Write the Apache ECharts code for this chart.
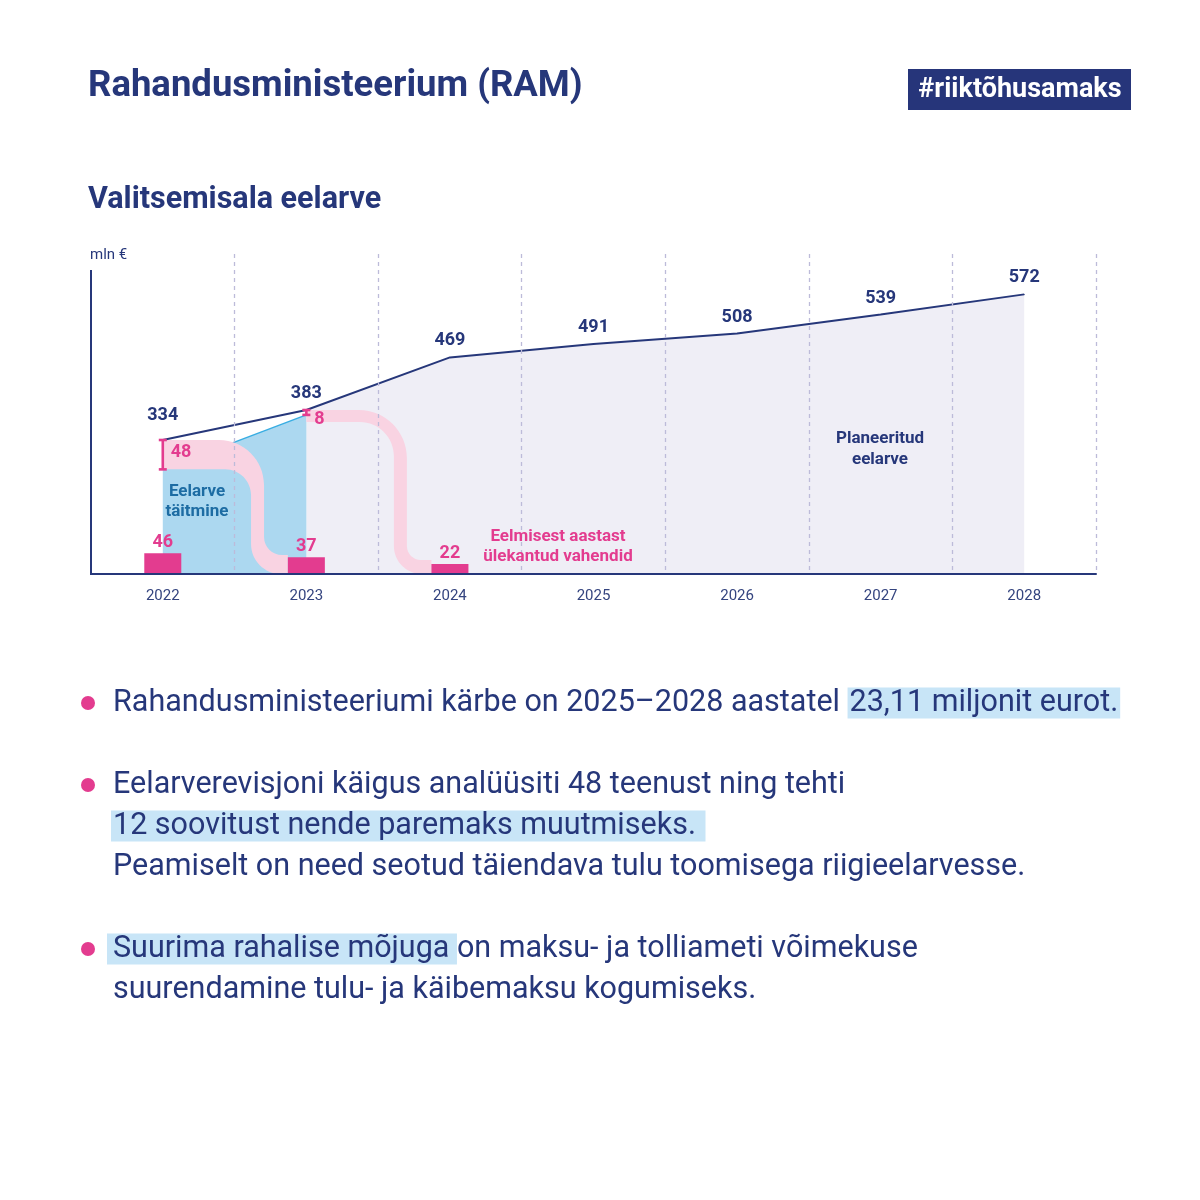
<!DOCTYPE html>
<html><head><meta charset="utf-8">
<script src="https://cdn.jsdelivr.net/npm/echarts@6/dist/echarts.min.js"></script>
<style>html,body{margin:0;padding:0;background:#fff}#c{width:1200px;height:1200px}</style>
</head><body><div id="c"></div><script>
// ---- data ----
const years = ['2022','2023','2024','2025','2026','2027','2028'];
const budget = [334, 383, 469, 491, 508, 539, 572];      // Valitsemisala eelarve, mln €
const unusedFlow = [48, 8];                               // 2022, 2023 – ülekantud järgmisse aastasse
const carriedOver = [46, 37, 22];                         // 2022–2024 eelmisest aastast ülekantud vahendid
const executed = unusedFlow.map((u, i) => budget[i] - u); // eelarve täitmine 2022, 2023

// ---- style constants ----
const NAVY = '#26377a', PINK = '#e33c8f', BAND = '#f9d3e2', BLUE = '#acd8f0', BLUE_LINE = '#38ade2', LAV = '#efeef6';
const FONT = 'Roboto';
const Y_MIN = 115, Y_MAX = 638, BAR_MAX = 710, BAR_W = 37;
const BODY = 30.5;

const chart = echarts.init(document.getElementById('c'), null, {renderer: 'canvas'});

function bandPath(x0, yT, t1, xv, tv, base, t2, xe, r1o, r1i, r2o, r2i) {
  const k = 0.552;
  const xr = xv + tv / 2, xl = xv - tv / 2;
  const yb1 = yT + t1, yt2 = base - t2;
  let d = `M${x0},${yT} L${xr - r1o},${yT} `;
  d += `C${xr - r1o + k * r1o},${yT} ${xr},${yT + r1o - k * r1o} ${xr},${yT + r1o} `;
  d += `L${xr},${yt2 - r2i} `;
  d += `C${xr},${yt2 - r2i + k * r2i} ${xr + r2i - k * r2i},${yt2} ${xr + r2i},${yt2} `;
  d += `L${xe},${yt2} L${xe},${base} L${xl + r2o},${base} `;
  d += `C${xl + r2o - k * r2o},${base} ${xl},${base - r2o + k * r2o} ${xl},${base - r2o} `;
  d += `L${xl},${yb1 + r1i} `;
  d += `C${xl},${yb1 + r1i - k * r1i} ${xl - r1i + k * r1i},${yb1} ${xl - r1i},${yb1} `;
  d += `L${x0},${yb1} Z`;
  return d;
}

const flowData = unusedFlow.map((u, i) => [i, budget[i], budget[i] - u, u]);

const richBody = {
  a: {fontSize: BODY, fontFamily: FONT, color: NAVY, lineHeight: 32},
  h: {fontSize: BODY, fontFamily: FONT, color: NAVY, lineHeight: 32, backgroundColor: '#c8e5f7', padding: [0, 2, 0, 2]},
  h6: {fontSize: BODY, fontFamily: FONT, color: NAVY, lineHeight: 32, backgroundColor: '#c8e5f7', padding: [0, 0, 0, 6]}
};
function bodyText(x, y, text) {
  return {type: 'text', x: x, y: y, style: {text: text, font: BODY + 'px ' + FONT, fill: NAVY,
    textAlign: 'left', textVerticalAlign: 'middle', rich: richBody}};
}

const option = {
  animation: false,
  backgroundColor: '#ffffff',
  textStyle: {fontFamily: FONT},
  grid: {left: 91, right: 104, top: 254, bottom: 626, containLabel: false},
  xAxis: {
    type: 'category', data: years, boundaryGap: true, z: 10,
    axisLine: {show: true, lineStyle: {color: NAVY, width: 2}},
    axisTick: {show: false},
    axisLabel: {color: '#34447f', fontSize: 15, margin: 15, interval: 0, fontFamily: FONT},
    splitLine: {show: true, interval: function (idx) { return idx !== 0; },
                lineStyle: {color: '#bdbbd9', type: [4, 4], width: 1.3}}
  },
  yAxis: [
    {type: 'value', min: Y_MIN, max: Y_MAX, z: 11,
     axisLine: {show: false}, axisTick: {show: false}, axisLabel: {show: false}, splitLine: {show: false}},
    {type: 'value', min: 0, max: BAR_MAX, show: false, splitLine: {show: false}}
  ],
  series: [
    { // planned budget area (from 2023)
      type: 'line', z: 1, symbol: 'none', silent: true,
      data: budget.map((v, i) => i === 0 ? null : v),
      lineStyle: {width: 0}, areaStyle: {color: LAV, opacity: 1, origin: 'start'}
    },
    { // budget execution
      type: 'line', z: 2, symbol: 'none', silent: true,
      data: years.map((y, i) => i < executed.length ? executed[i] : null),
      lineStyle: {color: BLUE_LINE, width: 1.5},
      areaStyle: {color: BLUE, opacity: 1, origin: 'start'}
    },
    { // pink flow bands
      type: 'custom', z: 3, silent: true,
      data: flowData,
      renderItem: function (params, api) {
        const i = api.value(0);
        const p0 = api.coord([i, api.value(1)]);
        const p1 = api.coord([i, api.value(2)]);
        const base = api.coord([i, Y_MIN])[1];
        const w = api.size([1, 0])[0];
        const xe = api.coord([i + 1, api.value(1)])[0] - BAR_W / 2;
        const first = i === 0;
        const t1 = Math.max(p1[1] - p0[1], 12);
        const d = first
          ? bandPath(p0[0], p0[1], t1, p0[0] + 0.66 * w, 13, base, 19, xe, 45, 26, 30, 18)
          : bandPath(p0[0], p0[1], t1, p0[0] + 0.655 * w, 13, base, 14, xe, 48, 34, 28, 14);
        return {type: 'path', shape: {pathData: d}, style: {fill: BAND}};
      }
    },
    { // budget line
      type: 'line', z: 4, symbol: 'circle', symbolSize: 1, showSymbol: true,
      data: budget.map((v, i) => ({value: v, label: {distance: i === 0 ? 15 : 7}})),
      itemStyle: {color: NAVY},
      lineStyle: {color: NAVY, width: 2},
      label: {show: true, position: 'top', color: NAVY, fontWeight: 'bold', fontSize: 18, fontFamily: FONT}
    },
    { // carried over bars
      type: 'bar', z: 5, yAxisIndex: 1, barWidth: BAR_W,
      data: carriedOver,
      itemStyle: {color: PINK},
      label: {show: true, position: 'top', distance: 2, color: PINK, fontWeight: 'bold', fontSize: 18, fontFamily: FONT}
    },
    { // brackets with values
      type: 'custom', z: 6, silent: true,
      data: flowData,
      renderItem: function (params, api) {
        const i = api.value(0);
        const a = api.coord([i, api.value(1)]);
        const b = api.coord([i, api.value(2)]);
        const x = a[0], cw = 4;
        const ls = {stroke: PINK, lineWidth: 2.6};
        const first = i === 0;
        return {type: 'group', children: [
          {type: 'line', shape: {x1: x, y1: a[1], x2: x, y2: b[1]}, style: ls},
          {type: 'line', shape: {x1: x - cw, y1: a[1], x2: x + cw, y2: a[1]}, style: ls},
          {type: 'line', shape: {x1: x - cw, y1: b[1], x2: x + cw, y2: b[1]}, style: ls},
          {type: 'text', x: x + 8, y: first ? (a[1] + b[1]) / 2 - 2 : b[1] + 5,
           style: {text: String(api.value(3)), fill: PINK, font: 'bold 18px ' + FONT,
                   textAlign: 'left', textVerticalAlign: 'middle'}}
        ]};
      }
    }
  ],
  graphic: [
    {type: 'line', shape: {x1: 91, y1: 270, x2: 91, y2: 575}, style: {stroke: NAVY, lineWidth: 2}, z: 12},
    {type: 'text', x: 88, y: 87, style: {text: 'Rahandusministeerium (RAM)', fill: NAVY, font: 'bold 36.5px ' + FONT, textAlign: 'left', textVerticalAlign: 'middle'}},
    {type: 'rect', shape: {x: 908, y: 69, width: 223, height: 41}, style: {fill: '#26357a'}},
    {type: 'text', x: 1020, y: 90, style: {text: '#riiktõhusamaks', fill: '#ffffff', font: 'bold 27px ' + FONT, textAlign: 'center', textVerticalAlign: 'middle'}},
    {type: 'text', x: 88, y: 200, style: {text: 'Valitsemisala eelarve', fill: NAVY, font: 'bold 30.5px ' + FONT, textAlign: 'left', textVerticalAlign: 'middle'}},
    {type: 'text', x: 90, y: 255, style: {text: 'mln €', fill: NAVY, font: '15px ' + FONT, textAlign: 'left', textVerticalAlign: 'middle'}},
    {type: 'text', x: 197, y: 502, z: 20, style: {text: 'Eelarve\ntäitmine', fill: '#1d6ca3', font: 'bold 17px ' + FONT, lineHeight: 20, textAlign: 'center', textVerticalAlign: 'middle'}},
    {type: 'text', x: 880, y: 449, z: 20, style: {text: 'Planeeritud\neelarve', fill: NAVY, font: 'bold 17px ' + FONT, lineHeight: 21, textAlign: 'center', textVerticalAlign: 'middle'}},
    {type: 'text', x: 558, y: 547, z: 20, style: {text: 'Eelmisest aastast\nülekantud vahendid', fill: PINK, font: 'bold 17px ' + FONT, lineHeight: 20, textAlign: 'center', textVerticalAlign: 'middle'}},

    {type: 'circle', shape: {cx: 88, cy: 703, r: 7}, style: {fill: PINK}},
    {type: 'circle', shape: {cx: 88, cy: 785, r: 7}, style: {fill: PINK}},
    {type: 'circle', shape: {cx: 88, cy: 949, r: 7}, style: {fill: PINK}},

    bodyText(113, 703, '{a|Rahandusministeeriumi kärbe on 2025–2028 aastatel }{h|23,11 miljonit eurot.}'),
    bodyText(113, 785, '{a|Eelarverevisjoni käigus analüüsiti 48 teenust ning tehti}'),
    bodyText(111, 826, '{h|12 soovitust nende paremaks muutmiseks. }'),
    bodyText(113, 867, '{a|Peamiselt on need seotud täiendava tulu toomisega riigieelarvesse.}'),
    bodyText(107, 949, '{h6|Suurima rahalise mõjuga }{a|on maksu- ja tolliameti võimekuse}'),
    bodyText(113, 990, '{a|suurendamine tulu- ja käibemaksu kogumiseks.}')
  ]
};
chart.setOption(option);
</script></body></html>
